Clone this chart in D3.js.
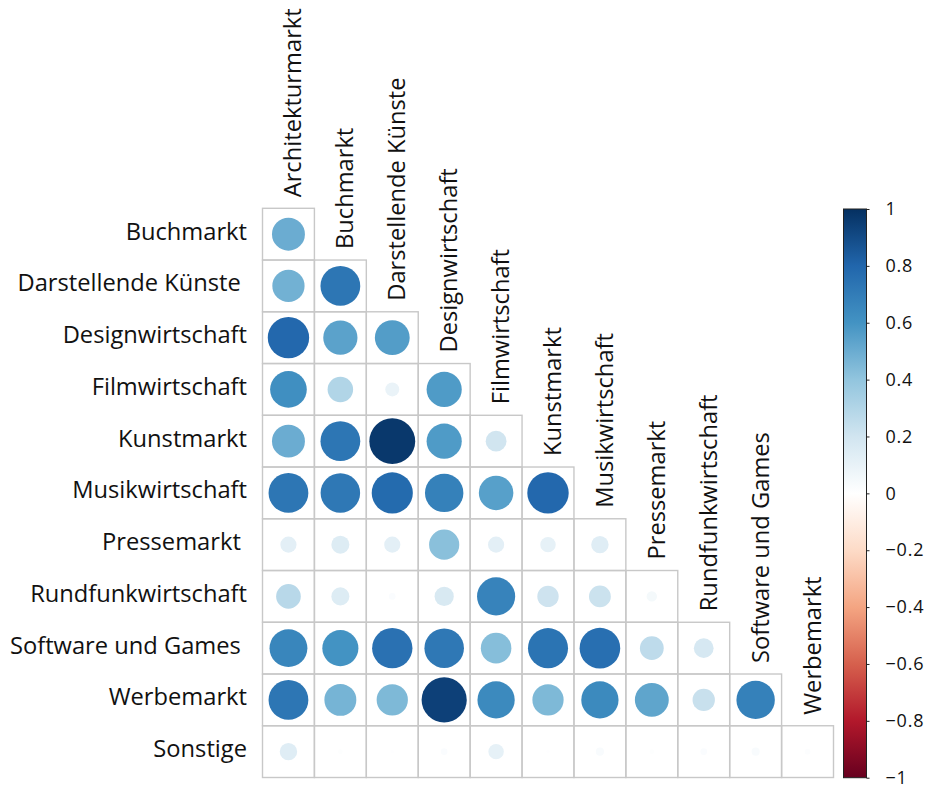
<!DOCTYPE html>
<html>
<head>
<meta charset="utf-8">
<script src="https://cdn.jsdelivr.net/npm/d3@7"></script>
<style>
  html, body { margin: 0; padding: 0; background: #ffffff; }
  text { font-family: "Open Sans", "Noto Sans", sans-serif; fill: #111; }
  .lbl { white-space: pre; }
</style>
</head>
<body>
<svg id="chart" width="933" height="785"></svg>
<script>
// ---- data ----
const rowLabels = ["Buchmarkt", "Darstellende Künste ", "Designwirtschaft", "Filmwirtschaft",
  "Kunstmarkt", "Musikwirtschaft", "Pressemarkt ", "Rundfunkwirtschaft",
  "Software und Games ", "Werbemarkt", "Sonstige"];
const colLabels = ["Architekturmarkt", "Buchmarkt", "Darstellende Künste", "Designwirtschaft",
  "Filmwirtschaft", "Kunstmarkt", "Musikwirtschaft", "Pressemarkt",
  "Rundfunkwirtschaft", "Software und Games", "Werbemarkt"];
// lower-triangle correlations: row i holds values for columns 0..i
const corrBuchmarkt      = [0.50];
const corrDarstellende   = [0.48, 0.73];
const corrDesign         = [0.79, 0.54, 0.56];
const corrFilm           = [0.62, 0.30, 0.09, 0.57];
const corrKunst          = [0.50, 0.73, 0.97, 0.57, 0.20];
const corrMusik          = [0.73, 0.72, 0.78, 0.68, 0.55, 0.79];
const corrPresse         = [0.12, 0.15, 0.12, 0.42, 0.12, 0.11, 0.14];
const corrRundfunk       = [0.28, 0.15, 0.02, 0.17, 0.67, 0.21, 0.22, 0.05];
const corrSoftware       = [0.66, 0.60, 0.75, 0.72, 0.43, 0.74, 0.76, 0.26, 0.18];
const corrWerbe          = [0.73, 0.47, 0.45, 0.94, 0.64, 0.45, 0.64, 0.53, 0.23, 0.68];
const corrSonstige       = [0.14, 0.01, 0.005, 0.02, 0.11, 0.005, 0.03, 0.01, 0.02, 0.03, 0.015];
const corrRows = [corrBuchmarkt, corrDarstellende, corrDesign, corrFilm, corrKunst, corrMusik,
  corrPresse, corrRundfunk, corrSoftware, corrWerbe, corrSonstige];
const legendTicks = [1, 0.8, 0.6, 0.4, 0.2, 0, -0.2, -0.4, -0.6, -0.8, -1];
const paletteColors = ["#67001F", "#B2182B", "#D6604D", "#F4A582", "#FDDBC7", "#FFFFFF",
  "#D1E5F0", "#92C5DE", "#4393C3", "#2166AC", "#053061"];

// ---- layout ----
const svg = d3.select("#chart");
const gridLeft = 262.5, gridRight = 833.5, gridTop = 208.3, gridBottom = 777.5;

const x = d3.scaleBand().domain(colLabels).range([gridLeft, gridRight]).paddingInner(0).paddingOuter(0);
const y = d3.scaleBand().domain(rowLabels).range([gridTop, gridBottom]).paddingInner(0).paddingOuter(0);
const cell = Math.min(x.bandwidth(), y.bandwidth());
const r = d3.scaleSqrt().domain([0, 1]).range([0, 0.45 * cell]);
const color = d3.scaleLinear()
  .domain(d3.range(paletteColors.length).map(i => -1 + 2 * i / (paletteColors.length - 1)))
  .range(paletteColors)
  .interpolate(d3.interpolateRgb);

const cells = [];
corrRows.forEach((vals, i) => {
  vals.forEach((v, j) => cells.push({ row: rowLabels[i], col: colLabels[j], v }));
});

// grid cells
svg.append("g").selectAll("rect").data(cells).join("rect")
  .attr("x", d => x(d.col))
  .attr("y", d => y(d.row))
  .attr("width", x.bandwidth())
  .attr("height", y.bandwidth())
  .attr("fill", "none")
  .attr("stroke", "#c8c8c8")
  .attr("stroke-width", 1.4);

// circles
svg.append("g").selectAll("circle").data(cells).join("circle")
  .attr("cx", d => x(d.col) + x.bandwidth() / 2)
  .attr("cy", d => y(d.row) + y.bandwidth() / 2)
  .attr("r", d => r(Math.abs(d.v)))
  .attr("fill", d => color(d.v));

// row labels
svg.append("g").selectAll("text").data(rowLabels).join("text")
  .attr("class", "lbl")
  .attr("x", gridLeft - 15.5)
  .attr("y", d => y(d) + y.bandwidth() / 2 + 5.5)
  .attr("text-anchor", "end")
  .attr("font-size", 23.7)
  .text(d => d);

// column labels (rotated)
svg.append("g").selectAll("text").data(colLabels).join("text")
  .attr("class", "lbl")
  .attr("text-anchor", "start")
  .attr("font-size", 23.7)
  .attr("transform", (d, j) => {
    const cx = x(d) + x.bandwidth() / 2 + 13;
    const top = y(rowLabels[j]) - 11;
    return `translate(${cx},${top}) rotate(-90)`;
  })
  .text(d => d);

// colour legend
const lgX = 843.5, lgW = 23;
const ly = d3.scaleLinear().domain([-1, 1]).range([777.7, 209]);
const defs = svg.append("defs");
const grad = defs.append("linearGradient").attr("id", "cbar")
  .attr("x1", 0).attr("y1", 1).attr("x2", 0).attr("y2", 0);
grad.selectAll("stop").data(paletteColors).join("stop")
  .attr("offset", (d, i) => i / (paletteColors.length - 1))
  .attr("stop-color", d => d);
svg.append("rect")
  .attr("x", lgX).attr("y", ly(1))
  .attr("width", lgW).attr("height", ly(-1) - ly(1))
  .attr("fill", "url(#cbar)")
  .attr("stroke", "#222").attr("stroke-width", 1);

const axis = d3.axisRight(ly).tickValues(legendTicks).tickSize(3).tickPadding(16)
  .tickFormat(d3.format("~g"));
const ag = svg.append("g").attr("transform", `translate(${lgX + lgW},0)`).call(axis);
ag.select(".domain").remove();
ag.selectAll(".tick line").attr("stroke", "#222");
ag.selectAll(".tick text").attr("font-size", 18).attr("fill", "#111")
  .attr("letter-spacing", "0.8px")
  .attr("font-family", "'Open Sans', 'Noto Sans', sans-serif");
</script>
</body>
</html>
